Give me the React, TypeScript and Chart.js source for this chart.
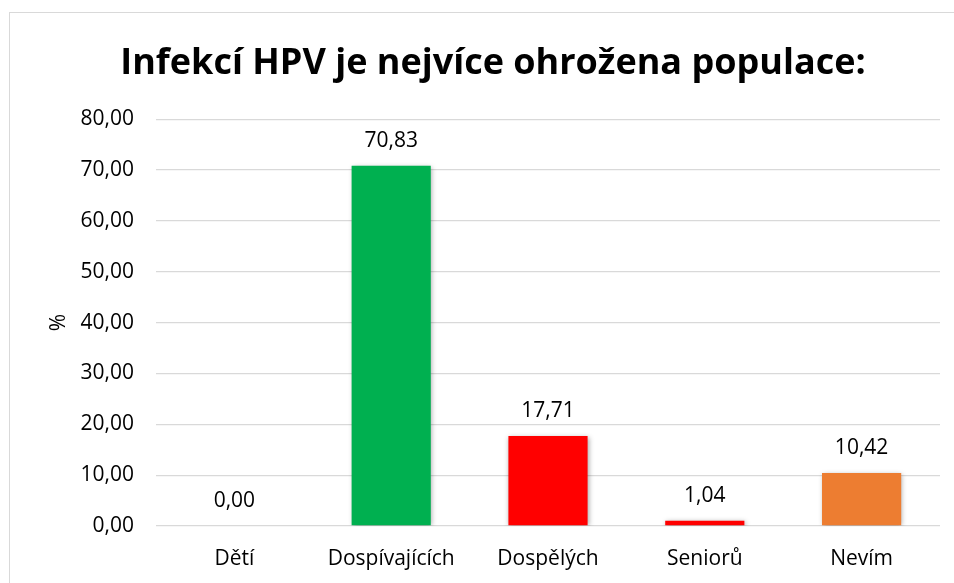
import React, { useEffect, useRef } from "react";
import { Chart, registerables } from "chart.js";

Chart.register(...registerables);

const title = "Infekcí HPV je nejvíce ohrožena populace:";
const categories = ["Dětí", "Dospívajících", "Dospělých", "Seniorů", "Nevím"];
const values = [0, 70.83, 17.71, 1.04, 10.42];
const barColors = ["#A5A5A5", "#00B050", "#FF0000", "#FF0000", "#ED7D31"];
const yTicks = [0, 10, 20, 30, 40, 50, 60, 70, 80];
const yTitle = "%";

const FONT = "'Open Sans', 'Noto Sans', sans-serif";
const fmt = (v: number) => v.toFixed(2).replace(".", ",");

export default function App() {
  const ref = useRef<HTMLCanvasElement | null>(null);

  useEffect(() => {
    if (!ref.current) return;
    const shadowPlugin = {
      id: "barShadow",
      beforeDatasetsDraw(chart: any) {
        const ctx = chart.ctx;
        ctx.save();
        ctx.shadowColor = "rgba(0,0,0,0.35)";
        ctx.shadowBlur = 5;
        ctx.shadowOffsetX = 1;
        ctx.shadowOffsetY = 1;
      },
      afterDatasetsDraw(chart: any) {
        chart.ctx.restore();
      },
    };
    const labelPlugin = {
      id: "valueLabels",
      afterDatasetsDraw(chart: any) {
        const ctx = chart.ctx;
        const meta = chart.getDatasetMeta(0);
        ctx.save();
        ctx.font = `21px ${FONT}`;
        ctx.fillStyle = "#000000";
        ctx.textAlign = "center";
        ctx.textBaseline = "middle";
        meta.data.forEach((el: any, i: number) => {
          ctx.fillText(fmt(values[i]), el.x, el.y - 25);
        });
        ctx.restore();
      },
    };
    const chart = new Chart(ref.current, {
      type: "bar",
      data: {
        labels: categories,
        datasets: [
          {
            data: values,
            backgroundColor: barColors,
            borderWidth: 0,
            categoryPercentage: 1,
            barPercentage: 0.505,
          },
        ],
      },
      options: {
        animation: false,
        responsive: false,
        maintainAspectRatio: false,
        layout: { padding: { left: 46, right: 14, top: 0, bottom: 0 } },
        plugins: {
          legend: { display: false },
          tooltip: { enabled: false },
          title: {
            display: true,
            text: title,
            color: "#000000",
            font: { family: FONT, size: 36, weight: "bold" },
            padding: { top: 42, bottom: 34 },
          },
        },
        scales: {
          x: {
            grid: { display: false, drawTicks: false },
            border: { display: false },
            afterFit: (scale: any) => {
              scale.height = 57;
            },
            ticks: {
              color: "#000000",
              font: { family: FONT, size: 21 },
              padding: 20,
              maxRotation: 0,
            },
          },
          y: {
            min: 0,
            max: 80,
            afterBuildTicks: (scale: any) => {
              scale.ticks = yTicks.map((v) => ({ value: v }));
            },
            afterFit: (scale: any) => {
              scale.width = 110;
            },
            grid: { color: "#D9D9D9", lineWidth: 1.3, drawTicks: false },
            border: { display: false },
            ticks: {
              color: "#000000",
              font: { family: FONT, size: 21 },
              padding: 22,
              callback: (v: any) => fmt(Number(v)),
            },
            title: {
              display: true,
              text: yTitle,
              color: "#000000",
              font: { family: FONT, size: 21 },
              padding: 0,
            },
          },
        },
      },
      plugins: [shadowPlugin, labelPlugin],
    });
    return () => chart.destroy();
  }, []);

  return (
    <div style={{ position: "fixed", left: 0, top: 0, width: 954, height: 583, background: "#fff", overflow: "hidden" }}>
      <div
        style={{
          position: "absolute",
          left: 9,
          top: 12,
          width: 1000,
          height: 700,
          border: "1px solid #D9D9D9",
          boxSizing: "border-box",
        }}
      />
      <canvas ref={ref} width={954} height={583} style={{ position: "absolute", left: 0, top: 0, width: 954, height: 583 }} />
    </div>
  );
}
